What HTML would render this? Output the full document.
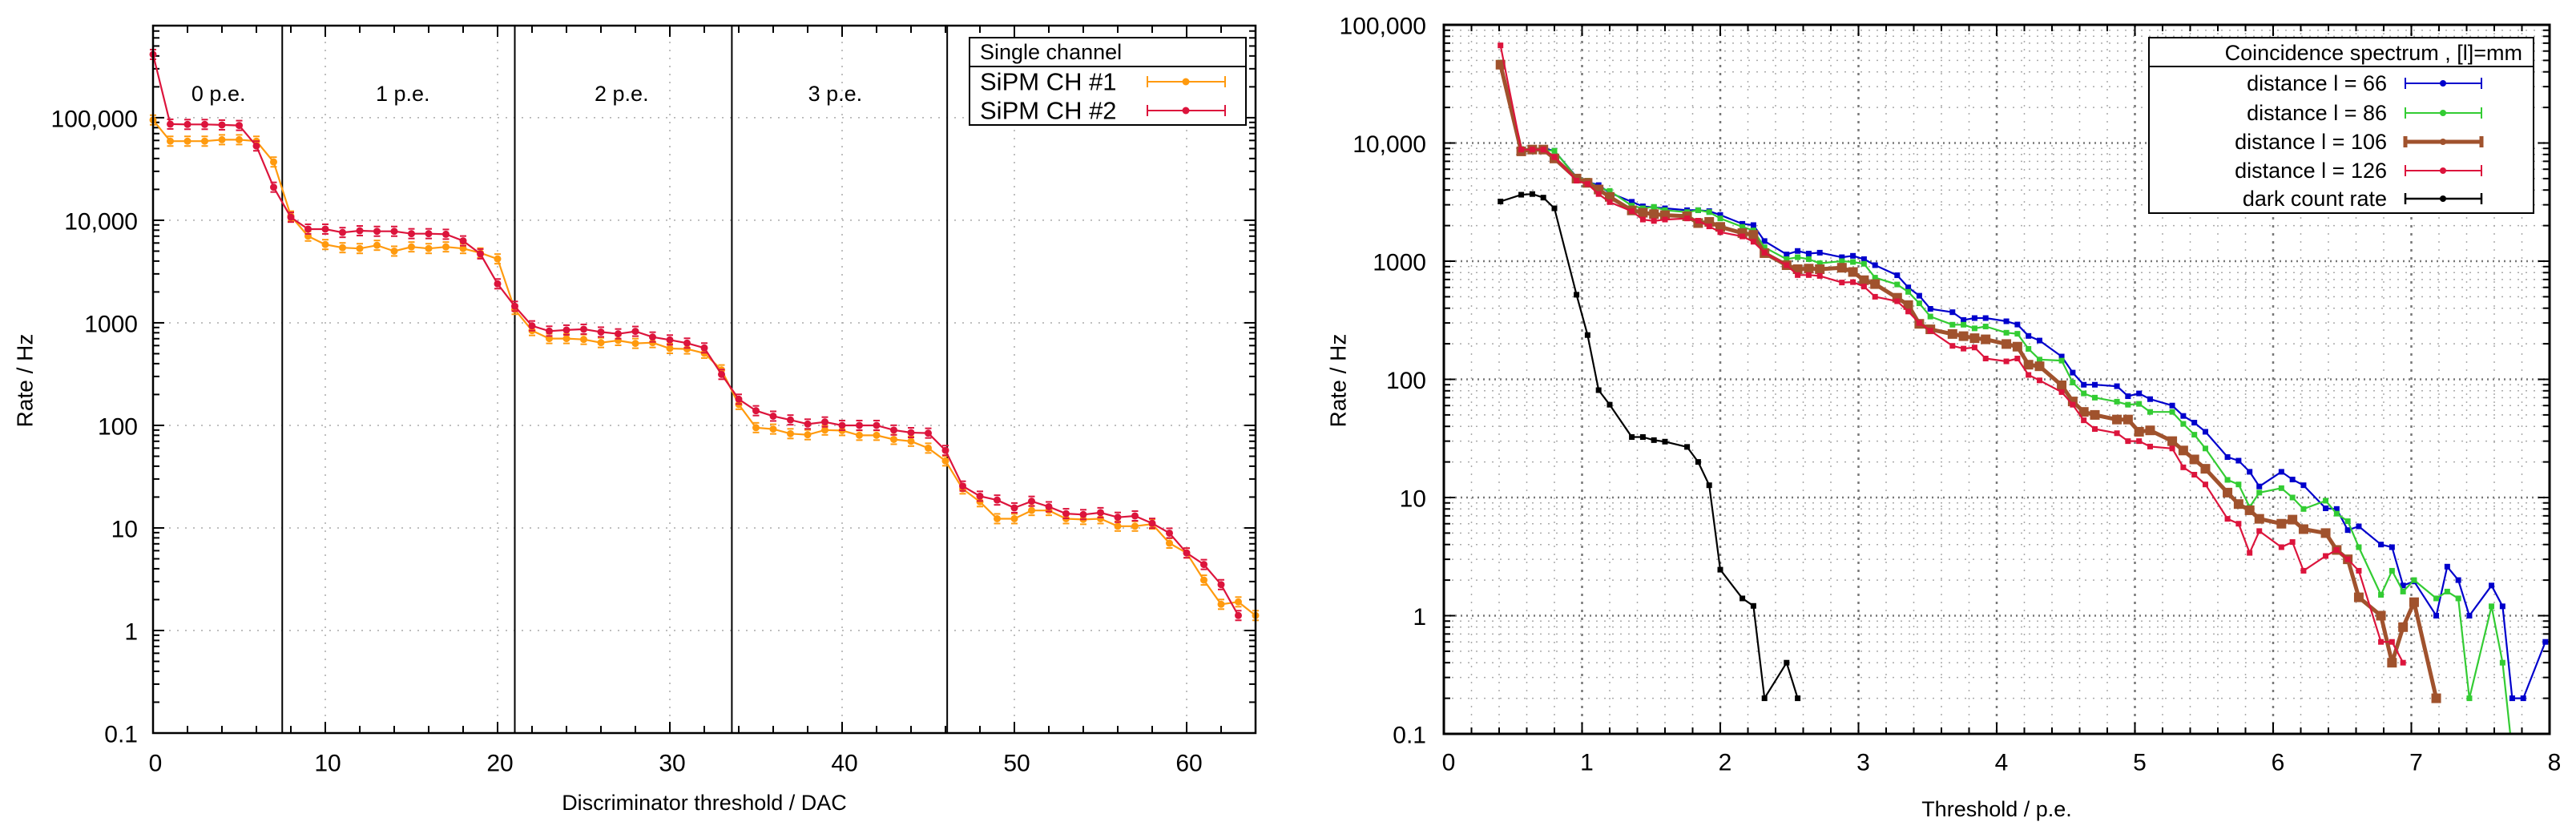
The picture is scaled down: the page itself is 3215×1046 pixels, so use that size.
<!DOCTYPE html>
<html><head><meta charset="utf-8">
<style>
html,body{margin:0;padding:0;background:#fff;}
svg{display:block;}
text{font-family:"Liberation Sans",sans-serif;}
</style></head>
<body>
<svg id="chart" xmlns="http://www.w3.org/2000/svg" width="3215" height="1046" viewBox="0 0 3215 1046">
<rect x="0" y="0" width="3215" height="1046" fill="#fff"/>
<g id="left"></g>
<g id="right"></g>
</svg>
<script>
// ---------- LEFT CHART DATA ----------
const dacValues = [0,1,2,3,4,5,6,7,8,9,10,11,12,13,14,15,16,17,18,19,20,21,22,23,24,25,26,27,28,29,30,31,32,33,34,35,36,37,38,39,40,41,42,43,44,45,46,47,48,49,50,51,52,53,54,55,56,57,58,59,60,61,62,63,64];
const ch1Rates = [95000,59000,59000,59000,61000,61000,59000,37000,11000,7000,5800,5400,5300,5700,5000,5500,5300,5500,5300,4800,4200,1350,840,702,702,689,641,673,630,641,562,556,505,348,160,95,92,83,81,90,89,80,80,73,70,60,45,24,18,12.3,12.3,14.8,14.8,12.3,12.1,12.3,10.4,10.4,10.9,7.1,5.7,3.1,1.8,1.9,1.4];
const ch2Rates = [414000,86600,86000,86000,85000,84000,53000,21000,10700,8200,8200,7600,7900,7800,7800,7400,7400,7300,6300,4700,2400,1450,935,830,851,866,813,781,826,727,681,634,569,314,180,139,123,113,103,108,100,100,100,90,85,84,57,25.6,20.4,18.7,15.7,18.2,16.1,13.8,13.5,14.1,12.7,13.1,11.1,8.9,5.7,4.4,2.8,1.4,null];
const peBoundaries = [7.5,21.0,33.6,46.1];
const peLabels = ["0 p.e.","1 p.e.","2 p.e.","3 p.e."];
const peLabelPos = [3.8,14.5,27.2,39.6];
const leftXTicks = [0,10,20,30,40,50,60];
const leftYTicks = [0.1,1,10,100,1000,10000,100000];
const leftYTickLabels = ["0.1","1","10","100","1000","10,000","100,000"];

// ---------- RIGHT CHART DATA ----------
const thresholds = [0.41,0.56,0.64,0.72,0.80,0.96,1.04,1.12,1.20,1.36,1.44,1.52,1.60,1.76,1.84,1.92,2.00,2.16,2.24,2.32,2.48,2.56,2.64,2.72,2.88,2.96,3.04,3.12,3.28,3.36,3.44,3.52,3.68,3.76,3.84,3.92,4.07,4.15,4.23,4.31,4.47,4.55,4.63,4.71,4.87,4.95,5.03,5.11,5.27,5.35,5.43,5.51,5.67,5.75,5.83,5.90,6.06,6.14,6.22,6.38,6.46,6.54,6.62,6.78,6.86,6.94,7.02,7.18,7.26,7.34,7.42,7.58,7.66,7.73,7.81,7.97];
const dist66 = [48000,8800,8800,9000,8600,5150,4700,4400,3790,3180,2910,2860,2800,2700,2700,2650,2460,2070,2020,1480,1140,1220,1160,1180,1080,1110,1040,925,760,600,510,395,370,318,330,330,310,291,233,213,156,114,90,90,87.5,72,76,68,60,49,43,36,22,20.5,16.5,12.4,16.5,14.2,12.7,8.1,8.0,5.3,5.7,4.0,3.8,1.8,1.95,1.0,2.6,2.0,1.0,1.8,1.2,0.2,0.2,0.6];
const dist86 = [48000,8900,8900,8700,8600,5100,4800,4200,3930,2950,2800,2880,2700,2600,2700,2600,2300,1950,1820,1310,1040,1080,1040,960,1000,985,950,725,635,550,440,340,290,290,270,280,248,243,181,147,144,94,76,70,64.7,61,62,53,53,42,34,26,14.1,12.9,8.3,11,12.0,10,8.0,9.4,7.3,6.3,3.8,1.5,2.4,1.6,2.0,1.4,1.6,1.4,0.2,1.2,0.4,0.07,null,null];
const dist106 = [46000,8500,8800,8800,7400,5000,4600,4040,3500,2690,2570,2500,2450,2400,2100,2150,1950,1730,1670,1170,925,855,865,855,880,810,690,640,490,425,295,265,242,232,223,218,199,189,133,129,89,65,53,50,45.7,45.7,36,37,30,25,21,17.5,11,8.8,7.8,6.6,6.0,6.5,5.4,5.0,3.6,3.0,1.43,1.0,0.4,0.8,1.3,0.2,null,null,null,null,null,null,null,null];
const dist126 = [67000,8800,8800,8800,7600,4800,4500,3700,3160,2650,2250,2190,2250,2300,2200,1970,1760,1620,1460,1180,925,763,763,750,660,665,610,500,458,375,300,258,192,182,186,150,142,150,109,98,78,61,45,38,35,30,30,27,26,18,15.6,12.9,6.6,6.0,3.4,5.2,3.8,4.2,2.4,3.2,3.6,3.0,2.4,0.6,0.6,0.4,null,null,null,null,null,null,null,null,null,null];
const darkRates = [3200,3650,3700,3450,2800,520,237,81,61,32.5,32.5,30.6,29.7,26.8,20,12.7,2.45,1.4,1.21,0.2,0.4,0.2];
const rightXTicks = [0,1,2,3,4,5,6,7,8];
const rightYTicks = [0.1,1,10,100,1000,10000,100000];
const rightYTickLabels = ["0.1","1","10","100","1000","10,000","100,000"];

const NS = "http://www.w3.org/2000/svg";
function mk(parent, tag, attrs){
  const e = document.createElementNS(NS, tag);
  for (const k in attrs) e.setAttribute(k, attrs[k]);
  parent.appendChild(e);
  return e;
}
function txt(parent, x, y, s, size, anchor, extra){
  const t = mk(parent, "text", Object.assign({x:x, y:y, "font-size":size, "text-anchor":anchor||"middle", "dominant-baseline":"central", fill:"#000"}, extra||{}));
  t.textContent = s;
  return t;
}

// ================= LEFT =================
(function(){
  const g = document.getElementById("left");
  const L=191, R=1567, T=32, B=915;
  const xMin=0, xMax=64, yMinLog=-1, yMaxLog=Math.log10(790000);
  const xs = v => L + (v-xMin)/(xMax-xMin)*(R-L);
  const ys = v => B - (Math.log10(v)-yMinLog)/(yMaxLog-yMinLog)*(B-T);

  // grid
  leftXTicks.forEach(v=>{
    if(v>0){
      const l = mk(g,"line",{x1:xs(v),x2:xs(v),y1:T,y2:B,stroke:"#aaa","stroke-width":1.5,"stroke-dasharray":"2,8"});
      
      
    }
  });
  leftYTicks.forEach(v=>{
    const l = mk(g,"line",{x1:L,x2:R,y1:ys(v),y2:ys(v),stroke:"#aaa","stroke-width":1.5,"stroke-dasharray":"2,8"});
    
    
  });
  // boundaries
  peBoundaries.forEach(v=>{
    const l = mk(g,"line",{x1:xs(v),x2:xs(v),y1:T,y2:B,stroke:"#000","stroke-width":2});
    
    
  });
  peLabels.forEach((s,i)=>{
    const t = txt(g, xs(peLabelPos[i]), 117, s, 27);
    
    
  });
  // ticks
  const tk = mk(g,"g",{stroke:"#000","stroke-width":2});
  for(let v=0; v<=64; v+=2){
    const len = (v%10===0)?14:9;
    mk(tk,"line",{x1:xs(v),x2:xs(v),y1:B,y2:B-len});
    mk(tk,"line",{x1:xs(v),x2:xs(v),y1:T,y2:T+len});
  }
  for(let d=-1; d<=5; d++){
    for(let m=1; m<=9; m++){
      const v = m*Math.pow(10,d);
      if(Math.log10(v)>yMaxLog) continue;
      const len = m===1?14:8;
      mk(tk,"line",{x1:L,x2:L+len,y1:ys(v),y2:ys(v)});
      mk(tk,"line",{x1:R,x2:R-len,y1:ys(v),y2:ys(v)});
    }
  }
  leftXTicks.forEach(v=>{
    const t = txt(g, xs(v)+3, 953, String(v), 30);
    
    
  });
  leftYTicks.forEach((v,i)=>{
    const t = txt(g, 172, ys(v)+2, leftYTickLabels[i], 30, "end");
    
    
  });
  // series
  function series(vals, color, name, sq){
    const sg = mk(g,"g",{});
    
    
    let d="";
    vals.forEach((v,i)=>{ if(v==null) return; d += (d?"L":"M")+xs(dacValues[i]).toFixed(1)+","+ys(v).toFixed(1); });
    mk(sg,"path",{d:d,fill:"none",stroke:color,"stroke-width":2.2});
    vals.forEach((v,i)=>{
      if(v==null) return;
      const x=xs(dacValues[i]), y=ys(v);
      const p = mk(sg,"circle",{cx:x,cy:y,r:4.5,fill:color});
      
      
      mk(sg,"line",{x1:x-4,x2:x+4,y1:y-6,y2:y-6,stroke:color,"stroke-width":2});
      mk(sg,"line",{x1:x-4,x2:x+4,y1:y+6,y2:y+6,stroke:color,"stroke-width":2});
    });
  }
  series(ch1Rates,"#ff9a0e","series-sipm-ch1");
  series(ch2Rates,"#dc143c","series-sipm-ch2");
  // frame
  const fr = mk(g,"rect",{x:L,y:T,width:R-L,height:B-T,fill:"none",stroke:"#000","stroke-width":2.5});
  
  
  // titles
  const yt = txt(g, 31, 475, "Rate / Hz", 28, "middle", {transform:"rotate(-90 31 475)"});
  
  
  const xt = txt(g, 879, 1002, "Discriminator threshold / DAC", 27);
  
  
  // legend
  const lg = mk(g,"g",{});
  
  
  mk(lg,"rect",{x:1210,y:47,width:345,height:109,fill:"#fff",stroke:"#000","stroke-width":2});
  mk(lg,"line",{x1:1210,x2:1555,y1:83,y2:83,stroke:"#000","stroke-width":2});
  const lt = txt(lg, 1223, 65, "Single channel", 27, "start");
  
  
  [["SiPM CH #1","#ff9a0e",102],["SiPM CH #2","#dc143c",138]].forEach(e=>{
    const t = txt(lg, 1223, e[2], e[0], 31, "start");
    
    
    mk(lg,"line",{x1:1432,x2:1529,y1:e[2],y2:e[2],stroke:e[1],"stroke-width":2});
    mk(lg,"line",{x1:1432,x2:1432,y1:e[2]-7,y2:e[2]+7,stroke:e[1],"stroke-width":2});
    mk(lg,"line",{x1:1529,x2:1529,y1:e[2]-7,y2:e[2]+7,stroke:e[1],"stroke-width":2});
    mk(lg,"circle",{cx:1480,cy:e[2],r:4.5,fill:e[1]});
  });
})();

// ================= RIGHT =================
(function(){
  const g = document.getElementById("right");
  const L=1802, R=3182, T=31, B=916;
  const xMin=0, xMax=8, yMinLog=-1, yMaxLog=5;
  const xs = v => L + (v-xMin)/(xMax-xMin)*(R-L);
  const ys = v => B - (Math.log10(v)-yMinLog)/(yMaxLog-yMinLog)*(B-T);
  const clipId="rclip";
  const defs = mk(g,"defs",{});
  const cp = mk(defs,"clipPath",{id:clipId});
  mk(cp,"rect",{x:L,y:T,width:R-L,height:B-T});

  // grid minor
  const gg = mk(g,"g",{});
  
  
  for(let i=1;i<40;i++){
    const v=i*0.2, major=(i%5===0);
    mk(gg,"line",{x1:xs(v),x2:xs(v),y1:T,y2:B,stroke:major?"#777":"#aaa","stroke-width":major?2.5:1.5,"stroke-dasharray":major?"3,7":"2,8"});
  }
  for(let d=-1; d<5; d++){
    for(let m=1; m<=9; m++){
      const v=m*Math.pow(10,d);
      if(d===-1 && m===1) continue;
      mk(gg,"line",{x1:L,x2:R,y1:ys(v),y2:ys(v),stroke:m===1?"#777":"#aaa","stroke-width":m===1?2.5:1.5,"stroke-dasharray":m===1?"2,5":"2,8"});
    }
  }
  // ticks
  const tk = mk(g,"g",{stroke:"#000","stroke-width":2});
  for(let i=0;i<=40;i++){
    const v=i*0.2, len=(i%5===0)?14:8;
    mk(tk,"line",{x1:xs(v),x2:xs(v),y1:B,y2:B-len});
    mk(tk,"line",{x1:xs(v),x2:xs(v),y1:T,y2:T+len});
  }
  for(let d=-1; d<=5; d++){
    for(let m=1; m<=9; m++){
      const v=m*Math.pow(10,d);
      if(Math.log10(v)>yMaxLog+1e-9) continue;
      const len=m===1?14:8;
      mk(tk,"line",{x1:L,x2:L+len,y1:ys(v),y2:ys(v)});
      mk(tk,"line",{x1:R,x2:R-len,y1:ys(v),y2:ys(v)});
    }
  }
  rightXTicks.forEach(v=>{
    const t = txt(g, xs(v)+6, 952, String(v), 30);
    
    
  });
  rightYTicks.forEach((v,i)=>{
    const t = txt(g, 1780, ys(v)+2, rightYTickLabels[i], 30, "end");
    
    
  });
  const plot = mk(g,"g",{"clip-path":"url(#"+clipId+")"});
  function series(xv, vals, color, name, w, ms){
    const sg = mk(plot,"g",{});
    
    
    let d="";
    vals.forEach((v,i)=>{ if(v==null) return; d += (d?"L":"M")+xs(xv[i]).toFixed(1)+","+ys(v).toFixed(1); });
    mk(sg,"path",{d:d,fill:"none",stroke:color,"stroke-width":w,"stroke-linejoin":"round"});
    vals.forEach((v,i)=>{
      if(v==null) return;
      const x=xs(xv[i]), y=ys(v);
      const p = mk(sg,"rect",{x:x-ms/2,y:y-ms/2,width:ms,height:ms,fill:color});
      
      
    });
  }
  series(thresholds, dist66, "#0000cc", "series-distance-66", 2.2, 7);
  series(thresholds, dist86, "#33cc33", "series-distance-86", 2.2, 7);
  series(thresholds, dist106, "#a0522d", "series-distance-106", 5, 12);
  series(thresholds, dist126, "#dc143c", "series-distance-126", 2.2, 7);
  series(thresholds, darkRates, "#000000", "series-dark-count-rate", 2.2, 7);

  const fr = mk(g,"rect",{x:L,y:T,width:R-L,height:B-T,fill:"none",stroke:"#000","stroke-width":3});
  
  
  const yt = txt(g, 1670, 475, "Rate / Hz", 28, "middle", {transform:"rotate(-90 1670 475)"});
  
  
  const xt = txt(g, 2492, 1010, "Threshold / p.e.", 27);
  
  
  // legend
  const lg = mk(g,"g",{});
  
  
  mk(lg,"rect",{x:2682,y:47,width:480,height:219,fill:"#fff",stroke:"#000","stroke-width":2});
  mk(lg,"line",{x1:2682,x2:3162,y1:83,y2:83,stroke:"#000","stroke-width":2});
  const lt = txt(lg, 3148, 66, "Coincidence spectrum , [l]=mm", 27, "end");
  
  
  [["distance l = 66","#0000cc",104,2],["distance l = 86","#33cc33",141,2],["distance l = 106","#a0522d",177,5],["distance l = 126","#dc143c",213,2],["dark count rate","#000",248,2.5]].forEach(e=>{
    const t = txt(lg, 2979, e[2], e[0], 27, "end");
    
    
    mk(lg,"line",{x1:3002,x2:3097,y1:e[2],y2:e[2],stroke:e[1],"stroke-width":e[3]});
    mk(lg,"line",{x1:3002,x2:3002,y1:e[2]-7,y2:e[2]+7,stroke:e[1],"stroke-width":e[3]});
    mk(lg,"line",{x1:3097,x2:3097,y1:e[2]-7,y2:e[2]+7,stroke:e[1],"stroke-width":e[3]});
    mk(lg,"circle",{cx:3049,cy:e[2],r:4,fill:e[1]});
  });
})();
</script>
</body></html>
